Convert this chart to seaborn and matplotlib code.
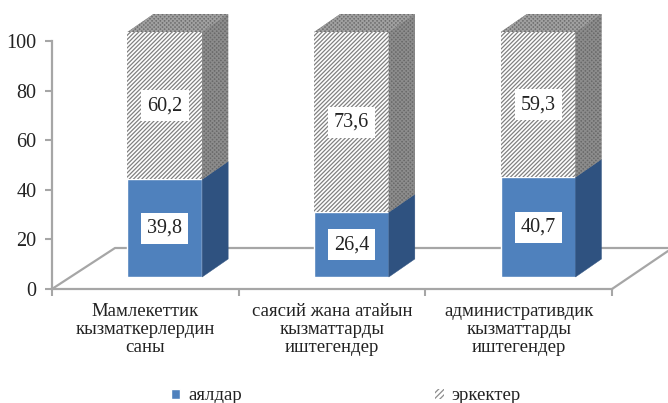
import matplotlib
matplotlib.use("Agg")
import matplotlib.pyplot as plt
import seaborn as sns
from matplotlib.patches import Polygon, Patch

categories = ["Мамлекеттик\nкызматкерлердин\nсаны", "саясий жана атайын\nкызматтарды\nиштегендер", "административдик\nкызматтарды\nиштегендер"]
women = [39.8, 26.4, 40.7]
men = [60.2, 73.6, 59.3]
women_labels = ["39,8", "26,4", "40,7"]
men_labels = ["60,2", "73,6", "59,3"]
series_names = ["аялдар", "эркектер"]
y_ticks = [0, 20, 40, 60, 80, 100]

W, H = 668, 403
BLUE, BLUE_SIDE, GRID = "#4f81bd", "#2f5280", "#a6a6a6"
sns.set_theme(style="white")
plt.rcParams["font.family"] = ["Liberation Serif", "DejaVu Serif"]
plt.rcParams["hatch.linewidth"] = 0.9

fig = plt.figure(figsize=(W / 100, H / 100), dpi=100, facecolor="white")
def box(l, r, t, b):
    return [l / W, 1 - b / H, (r - l) / W, (b - t) / H]

ax = fig.add_axes(box(52, 612, 41, 289))
ax.set_xlim(-0.5, 2.5)
ax.set_ylim(0, 100)
ax.set_yticks(y_ticks)
ax.set_xticks(range(3))
ax.set_xticklabels(categories, fontsize=13.5, color="#222222", linespacing=1.1)
ax.set_xticks([-0.5, 0.5, 1.5, 2.5], minor=True)
ax.tick_params(axis="x", which="major", length=0, pad=10)
ax.tick_params(axis="x", which="minor", length=5, width=1.5, color=GRID, bottom=True)
ax.tick_params(axis="y", length=5, width=1.5, color=GRID, left=True, labelsize=14.5, labelcolor="#222222", pad=6)
for s in ["top", "right"]:
    ax.spines[s].set_visible(False)
for s in ["left", "bottom"]:
    ax.spines[s].set_color(GRID)
    ax.spines[s].set_linewidth(1.6)

# perspective floor of the chart, in axes fractions
floor = dict(transform=ax.transAxes, color=GRID, lw=1.6, clip_on=False, zorder=1)
ax.plot([0, 63 / 560, 616 / 560], [0, 41 / 248, 41 / 248], **floor)
ax.plot([1, 616 / 560], [0, 38 / 248], **floor)

# bars, on an overlay shifted by the 3D offset
bx = fig.add_axes(box(71.5, 631.5, 32, 277))
bx.patch.set_alpha(0)
sns.barplot(x=list(range(3)), y=women, color=BLUE, width=0.4, saturation=1, ax=bx, order=[0, 1, 2])
n = len(bx.patches)
sns.barplot(x=list(range(3)), y=men, bottom=women, color="white", width=0.4, saturation=1, ax=bx, order=[0, 1, 2])
bx.set_xlim(-0.5, 2.5)
bx.set_ylim(0, 100)
bx.axis("off")

DX, DY = 26 / 560 * 3, 18 / 245 * 100
patches = list(bx.patches)
for i, p in enumerate(patches):
    x0, y0, w, h = p.get_x(), p.get_y(), p.get_width(), p.get_height()
    x1, y1 = x0 + w, y0 + h
    side = [(x1, y0), (x1 + DX, y0 + DY), (x1 + DX, y1 + DY), (x1, y1)]
    if i < n:
        bx.add_patch(Polygon(side, closed=True, facecolor=BLUE_SIDE, edgecolor=BLUE_SIDE, lw=0.3, clip_on=False, zorder=3))
    else:
        p.set_hatch("////////")
        p.set_edgecolor("#808080")
        p.set_linewidth(0)
        bx.add_patch(Polygon(side, closed=True, facecolor="#6a6a6a", edgecolor="#8c8c8c", hatch="xxxxxxxx", lw=0, clip_on=False, zorder=3))
        top = [(x0, y1), (x0 + DX, y1 + DY), (x1 + DX, y1 + DY), (x1, y1)]
        bx.add_patch(Polygon(top, closed=True, facecolor="#6f6f6f", edgecolor="#a0a0a0", hatch="xxxxxxxx", lw=0, clip_on=False, zorder=3))

label_box = dict(boxstyle="square,pad=0.3", facecolor="white", edgecolor="none")
for i in range(3):
    bx.text(i, women[i] / 2, women_labels[i], ha="center", va="center", fontsize=14.5, color="#222222", bbox=label_box, zorder=5)
    bx.text(i, women[i] + men[i] / 2, men_labels[i], ha="center", va="center", fontsize=14.5, color="#222222", bbox=label_box, zorder=5)

handles = [Patch(facecolor=BLUE, label=series_names[0]),
           Patch(facecolor="white", edgecolor="#8c8c8c", hatch="//////", lw=0, label=series_names[1])]
fig.legend(handles=handles, ncols=2, frameon=False, loc="center", bbox_to_anchor=(346 / W, 1 - 396 / H),
           fontsize=13.5, handlelength=0.5, handleheight=0.5, handletextpad=0.4, columnspacing=10.3,
           labelcolor="#222222", borderpad=0)

fig.savefig("out.png", dpi=100, facecolor="white")
